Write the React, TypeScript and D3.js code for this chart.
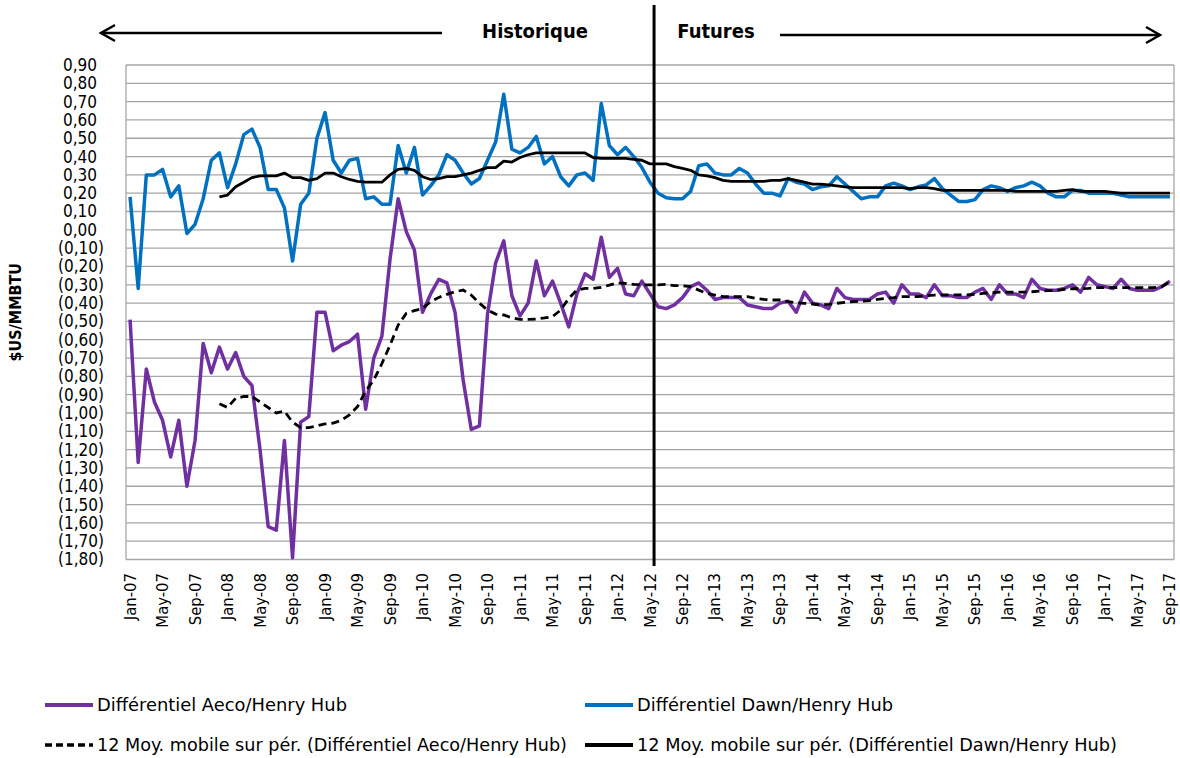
import React from 'react';
import * as d3 from 'd3';

// monthly categories Jan-07 .. Sep-17
const months = d3.timeMonths(new Date(2007, 0, 1), new Date(2017, 9, 1));
const monthLabel = d3.timeFormat('%b-%y');

const aeco = [
  -0.49, -1.27, -0.76, -0.94, -1.04, -1.24, -1.04, -1.40, -1.15, -0.62, -0.78, -0.64,
  -0.76, -0.67, -0.80, -0.85, -1.20, -1.62, -1.64, -1.15, -1.79, -1.05, -1.02, -0.45,
  -0.45, -0.66, -0.63, -0.61, -0.57, -0.98, -0.70, -0.58, -0.16, 0.17, -0.01, -0.11,
  -0.45, -0.35, -0.27, -0.29, -0.45, -0.82, -1.09, -1.07, -0.46, -0.18, -0.06, -0.36,
  -0.47, -0.40, -0.17, -0.36, -0.28, -0.40, -0.53, -0.35, -0.24, -0.27, -0.04, -0.26,
  -0.21, -0.35, -0.36, -0.28, -0.35, -0.42, -0.43, -0.41, -0.37, -0.31, -0.29, -0.33,
  -0.38, -0.37, -0.37, -0.37, -0.41, -0.42, -0.43, -0.43, -0.40, -0.39, -0.45, -0.34,
  -0.40, -0.41, -0.43, -0.32, -0.37, -0.38, -0.38, -0.38, -0.35, -0.34, -0.40, -0.30,
  -0.35, -0.35, -0.37, -0.30, -0.36, -0.36, -0.37, -0.37, -0.34, -0.32, -0.38, -0.30,
  -0.35, -0.35, -0.37, -0.27, -0.32, -0.33, -0.33, -0.32, -0.30, -0.34, -0.26, -0.30,
  -0.31, -0.32, -0.27, -0.32, -0.33, -0.33, -0.33, -0.31, -0.28,
];

const dawn = [
  0.18, -0.32, 0.30, 0.30, 0.33, 0.18, 0.24, -0.02, 0.03, 0.17, 0.38, 0.42,
  0.23, 0.36, 0.52, 0.55, 0.45, 0.22, 0.22, 0.12, -0.17, 0.14, 0.20, 0.50,
  0.64, 0.38, 0.31, 0.38, 0.39, 0.17, 0.18, 0.14, 0.14, 0.46, 0.31, 0.45,
  0.19, 0.24, 0.30, 0.41, 0.38, 0.31, 0.25, 0.28, 0.38, 0.48, 0.74, 0.44,
  0.42, 0.45, 0.51, 0.36, 0.40, 0.29, 0.24, 0.30, 0.31, 0.27, 0.69, 0.46,
  0.41, 0.45, 0.40, 0.34, 0.26, 0.20, 0.175, 0.17, 0.17, 0.21, 0.35, 0.36,
  0.31, 0.30, 0.30, 0.335, 0.31, 0.25, 0.20, 0.20, 0.185, 0.28, 0.26, 0.25,
  0.22, 0.235, 0.24, 0.29, 0.25, 0.21, 0.17, 0.18, 0.18, 0.24, 0.255, 0.24,
  0.22, 0.235, 0.245, 0.28, 0.225, 0.19, 0.155, 0.155, 0.165, 0.22, 0.24, 0.23,
  0.21, 0.23, 0.24, 0.26, 0.24, 0.20, 0.18, 0.18, 0.215, 0.215, 0.20, 0.20,
  0.20, 0.20, 0.19, 0.18, 0.18, 0.18, 0.18, 0.18, 0.18,
];

// 12-month moving averages (no value for the first 11 months)
const aecoMA = [
  null, null, null, null, null, null, null, null, null, null, null, -0.95,
  -0.97, -0.92, -0.91, -0.91, -0.94, -0.97, -1.00, -0.99, -1.05, -1.08, -1.08, -1.07,
  -1.06, -1.055, -1.04, -1.01, -0.965, -0.88, -0.82, -0.73, -0.63, -0.52, -0.456, -0.441,
  -0.429, -0.392, -0.369, -0.352, -0.338, -0.329, -0.356, -0.40, -0.438, -0.46, -0.465, -0.48,
  -0.489, -0.489, -0.487, -0.481, -0.474, -0.438, -0.374, -0.329, -0.32, -0.32, -0.314, -0.302,
  -0.289, -0.293, -0.298, -0.30, -0.30, -0.30, -0.298, -0.305, -0.305, -0.31, -0.329, -0.347,
  -0.356, -0.365, -0.365, -0.365, -0.365, -0.374, -0.38, -0.383, -0.383, -0.392, -0.398, -0.401,
  -0.405, -0.41, -0.407, -0.401, -0.396, -0.392, -0.389, -0.387, -0.38, -0.374, -0.37, -0.365,
  -0.365, -0.365, -0.36, -0.356, -0.355, -0.355, -0.355, -0.355, -0.352, -0.347, -0.343, -0.34,
  -0.34, -0.34, -0.34, -0.338, -0.334, -0.332, -0.332, -0.325, -0.321, -0.322, -0.32, -0.316,
  -0.316, -0.316, -0.316, -0.316, -0.316, -0.316, -0.316, -0.31, -0.283,
];

const dawnMA = [
  null, null, null, null, null, null, null, null, null, null, null, 0.18,
  0.19, 0.235, 0.26, 0.285, 0.295, 0.295, 0.295, 0.31, 0.285, 0.285, 0.27, 0.28,
  0.31, 0.31, 0.29, 0.275, 0.265, 0.26, 0.26, 0.26, 0.30, 0.33, 0.335, 0.325,
  0.29, 0.275, 0.28, 0.29, 0.29, 0.30, 0.31, 0.325, 0.34, 0.34, 0.375, 0.37,
  0.395, 0.41, 0.42, 0.42, 0.42, 0.42, 0.42, 0.42, 0.42, 0.395, 0.39, 0.39,
  0.39, 0.39, 0.385, 0.38, 0.36, 0.36, 0.36, 0.345, 0.335, 0.325, 0.30, 0.295,
  0.285, 0.27, 0.265, 0.265, 0.265, 0.265, 0.265, 0.27, 0.27, 0.28, 0.27, 0.26,
  0.25, 0.25, 0.245, 0.24, 0.235, 0.23, 0.23, 0.23, 0.23, 0.23, 0.23, 0.23,
  0.225, 0.23, 0.23, 0.225, 0.215, 0.215, 0.215, 0.215, 0.215, 0.215, 0.215, 0.215,
  0.215, 0.21, 0.21, 0.21, 0.21, 0.21, 0.21, 0.215, 0.22, 0.21, 0.21, 0.21,
  0.21, 0.205, 0.20, 0.20, 0.20, 0.20, 0.20, 0.20, 0.20,
];

const yTicks = d3.range(-18, 10).map((d) => d / 10);
const splitMonth = 'May-12';

const legendItems = [
  { label: 'Différentiel Aeco/Henry Hub', color: '#7030A0', dash: null, x: 45, y: 705, tl: 250 },
  { label: 'Différentiel Dawn/Henry Hub', color: '#0070C0', dash: null, x: 585, y: 705, tl: 256 },
  { label: '12 Moy. mobile sur pér. (Différentiel Aeco/Henry Hub)', color: '#000', dash: '7,4', x: 45, y: 745, tl: 470 },
  { label: '12 Moy. mobile sur pér. (Différentiel Dawn/Henry Hub)', color: '#000', dash: null, x: 585, y: 745, tl: 480 },
];

const FONT = "'Liberation Sans Narrow', 'DejaVu Sans Condensed', 'Open Sans', sans-serif";

const fmt = (v: number) => {
  const s = Math.abs(v).toFixed(2).replace('.', ',');
  return v < -0.001 ? `(${s})` : s;
};

export default function App() {
  const width = 1180;
  const height = 758;
  const left = 126;
  const right = 1174;
  const top = 65;
  const bottom = 559.5;

  const x = d3
    .scalePoint<number>()
    .domain(d3.range(months.length))
    .range([left, right])
    .padding(0.5);
  const y = d3.scaleLinear().domain([-1.8, 0.9]).range([bottom, top]);

  const line = d3
    .line<number | null>()
    .defined((d) => d != null)
    .x((_, i) => x(i) as number)
    .y((d) => y(d as number));

  const splitIdx = months.findIndex((m) => monthLabel(m) === splitMonth);
  const splitX = (x(splitIdx) as number) + x.step() / 2;

  return (
    <svg
      width={width}
      height={height}
      style={{ position: 'absolute', left: 0, top: 0, background: '#fff' }}
      fontFamily={FONT}
    >
      {/* gridlines */}
      {yTicks.map((t) => (
        <line key={t} x1={left} x2={right} y1={y(t)} y2={y(t)} stroke="#A6A6A6" strokeWidth={1.3} />
      ))}
      <line x1={left} x2={left} y1={top} y2={bottom} stroke="#A6A6A6" strokeWidth={1.3} />
      <line x1={right} x2={right} y1={top} y2={bottom} stroke="#A6A6A6" strokeWidth={1.3} />

      {/* y tick labels */}
      {yTicks.map((t) => (
        <text
          key={t}
          x={t < -0.001 ? 104 : 97}
          y={y(t)}
          dy="0.35em"
          textAnchor="end"
          fontSize={17}
          fill="#000"
        >
          {fmt(t)}
        </text>
      ))}
      <text
        transform={`translate(21,${(top + bottom) / 2}) rotate(-90)`}
        textAnchor="middle"
        fontSize={16}
        fontWeight="bold"
      >
        $US/MMBTU
      </text>

      {/* x tick labels */}
      {months.map((m, i) =>
        i % 4 === 0 ? (
          <text
            key={i}
            transform={`translate(${(x(i) as number) + 5.5},573) rotate(-90)`}
            textAnchor="end"
            fontSize={16.5}
          >
            {monthLabel(m)}
          </text>
        ) : null
      )}

      {/* series */}
      <path d={line(dawn) || ''} fill="none" stroke="#0070C0" strokeWidth={3.5} strokeLinejoin="round" />
      <path d={line(aeco) || ''} fill="none" stroke="#7030A0" strokeWidth={3.5} strokeLinejoin="round" />
      <path d={line(dawnMA) || ''} fill="none" stroke="#000" strokeWidth={2.8} strokeLinejoin="round" />
      <path d={line(aecoMA) || ''} fill="none" stroke="#000" strokeWidth={2.8} strokeDasharray="8,5" />

      {/* historic / futures split */}
      <line x1={splitX} x2={splitX} y1={5} y2={566} stroke="#000" strokeWidth={3} />
      <line x1={101} x2={442} y1={33} y2={33} stroke="#000" strokeWidth={2.5} />
      <polyline points="115,25 101,33 115,41" fill="none" stroke="#000" strokeWidth={2.5} />
      <line x1={780} x2={1160} y1={35} y2={35} stroke="#000" strokeWidth={2.5} />
      <polyline points="1146,27 1160,35 1146,43" fill="none" stroke="#000" strokeWidth={2.5} />
      <text x={535} y={38} textAnchor="middle" fontSize={20} fontWeight="bold">
        Historique
      </text>
      <text x={716} y={38} textAnchor="middle" fontSize={20} fontWeight="bold">
        Futures
      </text>

      {/* legend */}
      {legendItems.map((it) => (
        <g key={it.label}>
          <line
            x1={it.x}
            x2={it.x + 48}
            y1={it.y}
            y2={it.y}
            stroke={it.color}
            strokeWidth={it.dash ? 3.5 : 4}
            strokeDasharray={it.dash || undefined}
          />
          <text
            x={it.x + 52}
            y={it.y}
            dy="0.35em"
            fontSize={17}
            textLength={it.tl}
            lengthAdjust="spacingAndGlyphs"
          >
            {it.label}
          </text>
        </g>
      ))}
    </svg>
  );
}
